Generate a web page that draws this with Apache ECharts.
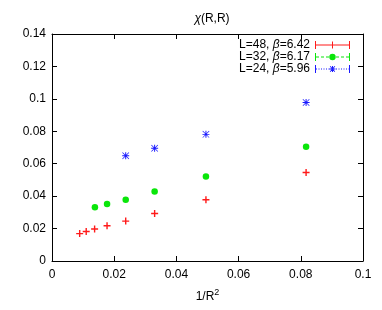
<!DOCTYPE html>
<html><head><meta charset="utf-8">
<script src="https://cdn.jsdelivr.net/npm/echarts@6/dist/echarts.min.js"></script>
<style>html,body{margin:0;padding:0;background:#fff}#c{width:382px;height:310px}</style>
</head><body><div id="c"></div>
<script>
// ---- data ----
const seriesNames = ['L=48, β=6.42', 'L=32, β=6.17', 'L=24, β=5.96'];
const x48 = [0.0089, 0.0110, 0.0137, 0.0177, 0.0237, 0.0330, 0.0495, 0.0817];
const y48 = [0.0169, 0.0182, 0.0197, 0.0217, 0.0246, 0.0293, 0.0378, 0.0546];
const x32 = [0.0138, 0.0177, 0.0237, 0.0330, 0.0495, 0.0817];
const y32 = [0.0331, 0.0352, 0.0378, 0.0428, 0.0521, 0.0705];
const x24 = [0.0237, 0.0330, 0.0495, 0.0817];
const y24 = [0.0649, 0.0695, 0.0781, 0.0978];
const xTicks = [0, 0.02, 0.04, 0.06, 0.08, 0.1];
const yTicks = [0, 0.02, 0.04, 0.06, 0.08, 0.1, 0.12, 0.14];

// ---- styles ----
const RED = '#ff1a1a', GREEN = '#0ae60a', BLUE = '#1a1aff';
const FONT = 'Liberation Sans';
const plusPath = 'path://M4 0H6V4H10V6H6V10H4V6H0V4H4Z';
const starPath = 'path://M0 4.3H10V5.7H0Z M4.3 0H5.7V10H4.3Z M0 0.7L0.7 0L10 9.3L9.3 10Z M10 0.7L0.7 10L0 9.3L9.3 0Z';

function rect(x0, y0, x1, y1) { return `M${x0} ${y0}H${x1}V${y1}H${x0}Z `; }
function caps() { return rect(0, 0, 1, 8) + rect(34, 0, 35, 8); }
function dashed(len, gap) {
  let s = '';
  for (let x = 1; x < 34; x += len + gap) s += rect(x, 3.5, Math.min(x + len, 34), 4.5);
  return s;
}
const iconRed = 'path://' + rect(0, 3.5, 35, 4.5) + caps() + rect(17, 0.5, 18, 7.5) + rect(14, 3.5, 21, 4.5);
const iconGreen = 'path://' + dashed(3, 2) + caps() + 'M14.3 4A3.2 3.2 0 1 1 20.7 4A3.2 3.2 0 1 1 14.3 4Z';
const iconBlue = 'path://' + dashed(1, 1.5) + caps() +
  rect(14.5, 3.5, 20.5, 4.5) + rect(17, 1, 18, 7) + 'M14.8 1.5L15.5 1L20.2 6.5L19.5 7Z M20.2 1.5L15.5 7L14.8 6.5L19.5 1Z';

const fmt = v => String(+v.toFixed(3));
const zip = (xs, ys) => xs.map((x, i) => [x, ys[i]]);

const chart = echarts.init(document.getElementById('c'), null, { renderer: 'canvas' });
const axisCommon = {
  axisLine: { show: true, onZero: false, lineStyle: { color: '#000', width: 1 } },
  axisTick: { show: true, inside: true, length: 5, lineStyle: { color: '#000' } },
  splitLine: { show: false }
};
chart.setOption({
  animation: false,
  backgroundColor: '#fff',
  textStyle: { fontFamily: FONT },
  title: {
    text: '{i|χ}(R,R)', left: 207, top: 8, textAlign: 'center',
    textStyle: { fontSize: 12, fontWeight: 'normal', color: '#000', fontFamily: FONT,
      rich: { i: { fontStyle: 'italic', fontSize: 12, fontFamily: FONT, color: '#000' } } }
  },
  grid: { left: 52, right: 19, top: 34, bottom: 49, containLabel: false },
  legend: {
    orient: 'vertical', right: 32, top: 39, padding: 0, itemGap: 0, align: 'right',
    itemWidth: 35, itemHeight: 8,
    data: [
      { name: seriesNames[0], icon: iconRed },
      { name: seriesNames[1], icon: iconGreen },
      { name: seriesNames[2], icon: iconBlue }
    ],
    formatter: n => n.replace('β', '{i|β}'),
    textStyle: { fontSize: 12, color: '#000', fontFamily: FONT, lineHeight: 12,
      rich: { i: { fontStyle: 'italic', fontSize: 12, color: '#000', fontFamily: FONT, lineHeight: 12 } } }
  },
  xAxis: [
    Object.assign({ type: 'value', position: 'bottom', min: xTicks[0], max: xTicks[xTicks.length - 1], interval: 0.02,
      name: '1/R{s|2}', nameLocation: 'middle', nameGap: 27,
      nameTextStyle: { fontSize: 12, color: '#000', fontFamily: FONT,
        rich: { s: { fontSize: 9, color: '#000', fontFamily: FONT, padding: [0, 0, 8, 0] } } },
      axisLabel: { formatter: fmt, fontSize: 12, color: '#000', margin: 8, fontFamily: FONT } }, axisCommon),
    Object.assign({ type: 'value', position: 'top', min: xTicks[0], max: xTicks[xTicks.length - 1], interval: 0.02,
      axisLabel: { show: false } }, axisCommon)
  ],
  yAxis: [
    Object.assign({ type: 'value', position: 'left', min: yTicks[0], max: yTicks[yTicks.length - 1], interval: 0.02,
      axisLabel: { formatter: fmt, fontSize: 12, color: '#000', margin: 6, fontFamily: FONT } }, axisCommon),
    Object.assign({ type: 'value', position: 'right', min: yTicks[0], max: yTicks[yTicks.length - 1], interval: 0.02,
      axisLabel: { show: false } }, axisCommon)
  ],
  series: [
    { name: seriesNames[0], type: 'scatter', data: zip(x48, y48), symbol: plusPath, symbolSize: 7,
      itemStyle: { color: RED, opacity: 1 } },
    { name: seriesNames[1], type: 'scatter', data: zip(x32, y32), symbol: 'circle', symbolSize: 6.5,
      itemStyle: { color: GREEN, opacity: 1 } },
    { name: seriesNames[2], type: 'scatter', data: zip(x24, y24), symbol: starPath, symbolSize: 7,
      itemStyle: { color: BLUE, opacity: 1 } }
  ]
});
</script></body></html>
